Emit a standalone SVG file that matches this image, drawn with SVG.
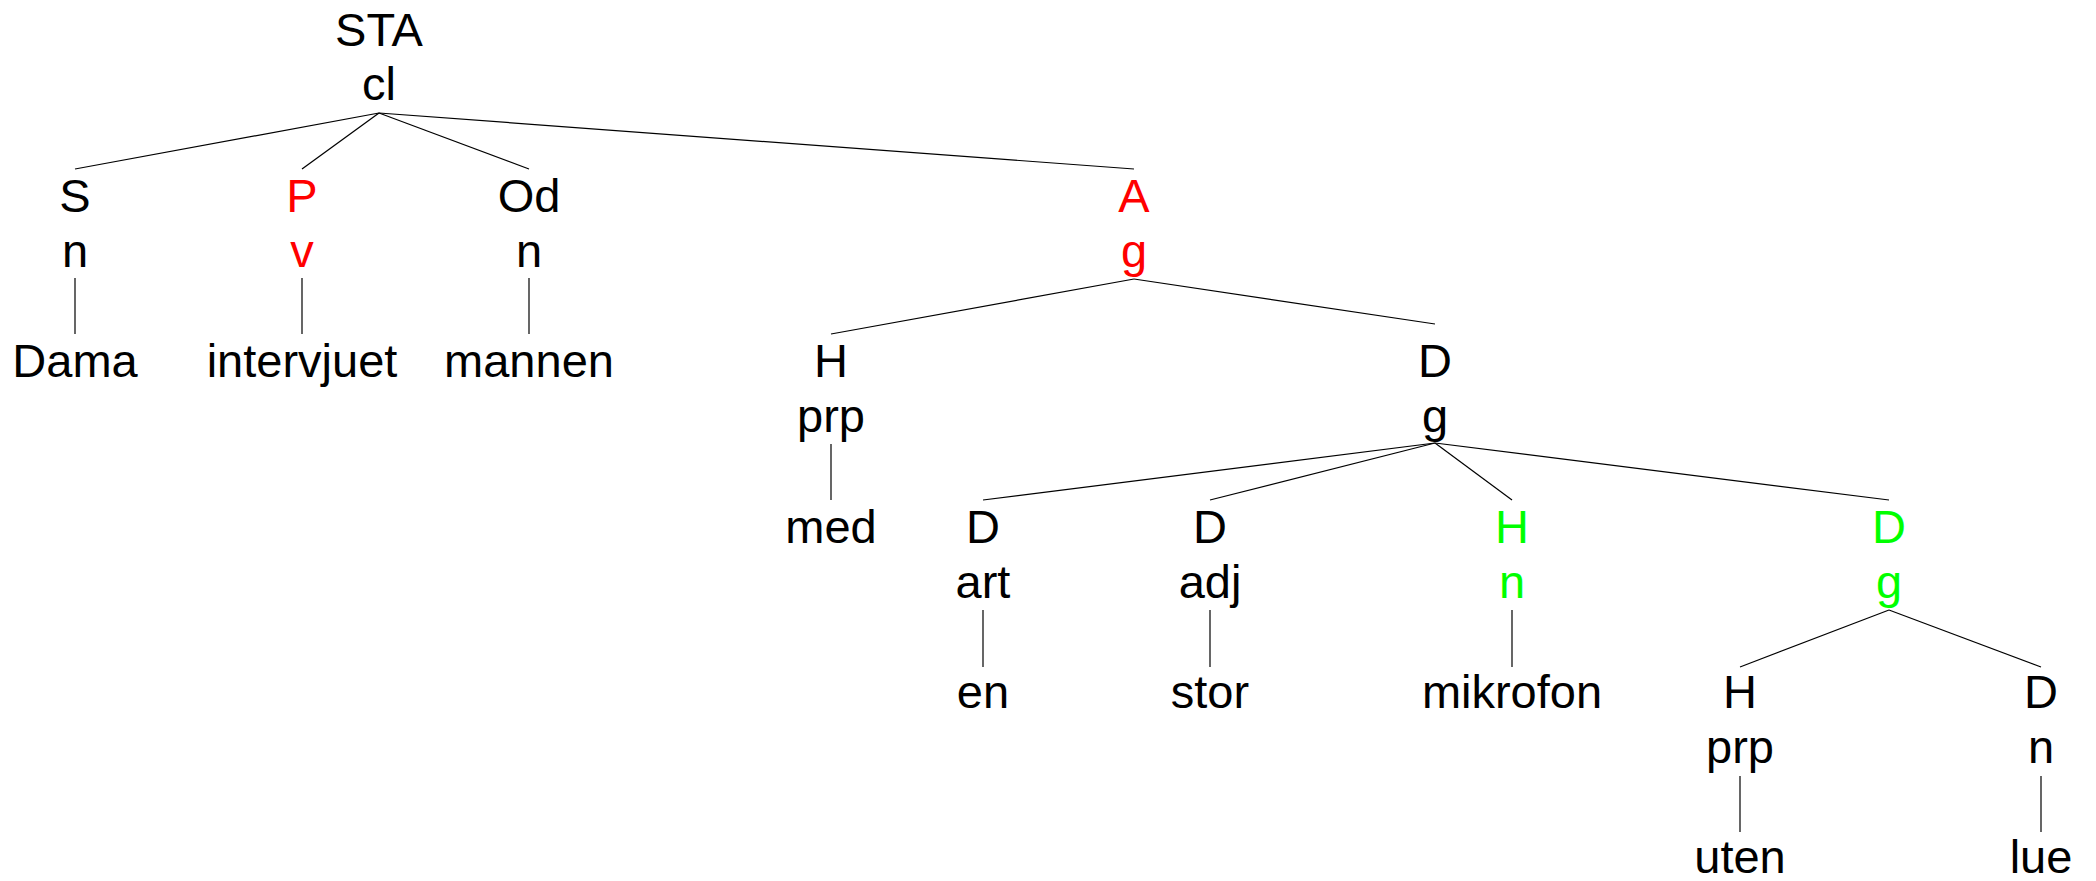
<svg xmlns="http://www.w3.org/2000/svg" width="2096" height="881" viewBox="0 0 2096 881">
<style>
text{font-family:"Liberation Sans",Arial,sans-serif;font-size:47px;text-anchor:middle;fill:#000}
.r{fill:#ff0000}
.g{fill:#00ff00}
#edges line{stroke:#000;stroke-width:1.2}
</style>
<rect width="2096" height="881" fill="#fff"/>
<g id="edges">
<line x1="379" y1="113" x2="75" y2="169"/>
<line x1="379" y1="113" x2="302" y2="169"/>
<line x1="379" y1="113" x2="529" y2="169"/>
<line x1="379" y1="113" x2="1134" y2="169"/>
<line x1="75" y1="278" x2="75" y2="334"/>
<line x1="302" y1="278" x2="302" y2="334"/>
<line x1="529" y1="278" x2="529" y2="334"/>
<line x1="1134" y1="279" x2="831" y2="334"/>
<line x1="1134" y1="279" x2="1435" y2="324"/>
<line x1="831" y1="444" x2="831" y2="500"/>
<line x1="1435" y1="443" x2="983" y2="500"/>
<line x1="1435" y1="443" x2="1210" y2="500"/>
<line x1="1435" y1="443" x2="1512" y2="500"/>
<line x1="1435" y1="443" x2="1889" y2="500"/>
<line x1="983" y1="610" x2="983" y2="667"/>
<line x1="1210" y1="610" x2="1210" y2="667"/>
<line x1="1512" y1="610" x2="1512" y2="667"/>
<line x1="1889" y1="610" x2="1740" y2="667"/>
<line x1="1889" y1="610" x2="2041" y2="667"/>
<line x1="1740" y1="776" x2="1740" y2="832"/>
<line x1="2041" y1="776" x2="2041" y2="832"/>
</g>
<g id="n-root"><text x="379" y="46">STA</text><text x="379" y="100">cl</text></g>
<g id="n-S"><text x="75" y="212">S</text><text x="75" y="267">n</text></g>
<g id="n-P"><text class="r" x="302" y="212">P</text><text class="r" x="302" y="267">v</text></g>
<g id="n-Od"><text x="529" y="212">Od</text><text x="529" y="267">n</text></g>
<g id="n-A"><text class="r" x="1134" y="212">A</text><text class="r" x="1134" y="267">g</text></g>
<g id="w-Dama"><text x="75" y="377">Dama</text></g>
<g id="w-intervjuet"><text x="302" y="377">intervjuet</text></g>
<g id="w-mannen"><text x="529" y="377">mannen</text></g>
<g id="n-H1"><text x="831" y="377">H</text><text x="831" y="432">prp</text></g>
<g id="n-D1"><text x="1435" y="377">D</text><text x="1435" y="432">g</text></g>
<g id="w-med"><text x="831" y="543">med</text></g>
<g id="n-Dart"><text x="983" y="543">D</text><text x="983" y="598">art</text></g>
<g id="n-Dadj"><text x="1210" y="543">D</text><text x="1210" y="598">adj</text></g>
<g id="n-Hn"><text class="g" x="1512" y="543">H</text><text class="g" x="1512" y="598">n</text></g>
<g id="n-Dg"><text class="g" x="1889" y="543">D</text><text class="g" x="1889" y="598">g</text></g>
<g id="w-en"><text x="983" y="708">en</text></g>
<g id="w-stor"><text x="1210" y="708">stor</text></g>
<g id="w-mikrofon"><text x="1512" y="708">mikrofon</text></g>
<g id="n-Hprp"><text x="1740" y="708">H</text><text x="1740" y="763">prp</text></g>
<g id="n-Dn"><text x="2041" y="708">D</text><text x="2041" y="763">n</text></g>
<g id="w-uten"><text x="1740" y="873">uten</text></g>
<g id="w-lue"><text x="2041" y="873">lue</text></g>
</svg>
